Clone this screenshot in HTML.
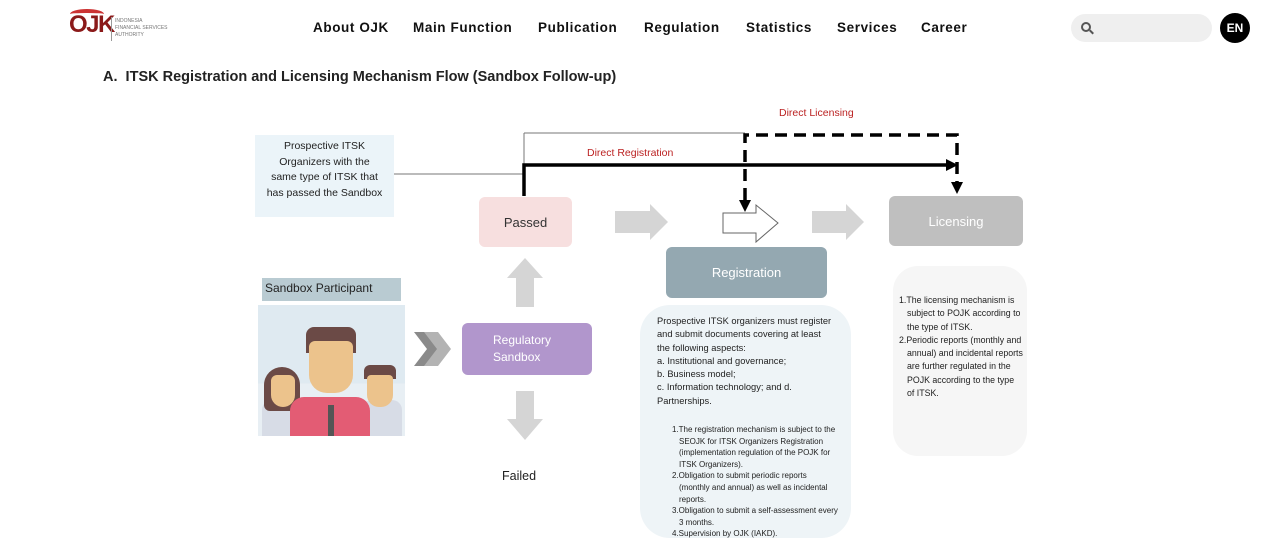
<!DOCTYPE html>
<html><head><meta charset="utf-8"><style>
*{margin:0;padding:0;box-sizing:border-box}
body{width:1280px;height:545px;background:#fff;position:relative;overflow:hidden;font-family:"Liberation Sans",sans-serif;color:#222}
.a{position:absolute}
.nav{top:20px;font-weight:bold;font-size:13.5px;letter-spacing:.6px;color:#111}
.box{display:flex;align-items:center;justify-content:center;text-align:center;border-radius:6px;font-size:13px}
.sm{font-size:9.3px;line-height:13.3px;color:#222}
.li{padding-left:7px;text-indent:-7px}
</style></head><body>
<div class="a" style="left:69px;top:11px;font-weight:bold;font-size:24px;color:#8b1a1a;letter-spacing:-1.5px">OJK</div>
<div class="a" style="left:70px;top:9px;width:34px;height:10px;border-top:4px solid #c33;border-radius:50% 50% 0 0"></div>
<div class="a" style="left:111px;top:17px;width:1px;height:24px;background:#999"></div>
<div class="a" style="left:115px;top:18px;font-size:5px;line-height:7px;color:#777">INDONESIA<br>FINANCIAL SERVICES<br>AUTHORITY</div>
<div class="a nav" style="left:313px">About OJK</div>
<div class="a nav" style="left:413px">Main Function</div>
<div class="a nav" style="left:538px">Publication</div>
<div class="a nav" style="left:644px">Regulation</div>
<div class="a nav" style="left:746px">Statistics</div>
<div class="a nav" style="left:837px">Services</div>
<div class="a nav" style="left:921px">Career</div>
<div class="a" style="left:1071px;top:14px;width:141px;height:28px;border-radius:14px;background:#efefef"></div>
<div class="a" style="left:1081px;top:22px;width:10px;height:10px;border:2px solid #555;border-radius:50%"></div>
<div class="a" style="left:1089px;top:31px;width:5px;height:2px;background:#555;transform:rotate(45deg)"></div>
<div class="a" style="left:1220px;top:13px;width:30px;height:30px;border-radius:50%;background:#000;color:#fff;font-weight:bold;font-size:12px;display:flex;align-items:center;justify-content:center">EN</div>
<div class="a" style="left:103px;top:69px;font-weight:bold;font-size:14.5px;letter-spacing:0;color:#222">A.&nbsp; ITSK Registration and Licensing Mechanism Flow (Sandbox Follow-up)</div>

<svg class="a" style="left:0;top:0" width="1280" height="545">
<line x1="394" y1="174" x2="524" y2="174" stroke="#777" stroke-width="1"/>
<line x1="524" y1="133" x2="745" y2="133" stroke="#777" stroke-width="1"/>
<line x1="524" y1="133" x2="524" y2="166" stroke="#777" stroke-width="1"/>
<polyline points="524,196 524,165 948,165" fill="none" stroke="#000" stroke-width="3.5"/>
<polygon points="946,159 958,165 946,171" fill="#000"/>
<polyline points="745,200 745,135 957,135 957,183" fill="none" stroke="#000" stroke-width="3.5" stroke-dasharray="12,7"/>
<polygon points="739,200 751,200 745,212" fill="#000"/>
<polygon points="951,182 963,182 957,194" fill="#000"/>
<polygon points="615,211 650,211 650,204 668,222 650,240 650,233 615,233" fill="#d5d5d5"/>
<polygon points="723,213 756,213 756,205 778,223 756,242 756,233 723,233" fill="#fff" stroke="#666" stroke-width="1"/>
<polygon points="812,211 846,211 846,204 864,222 846,240 846,233 812,233" fill="#d5d5d5"/>
<polygon points="525,258 543,278 534,278 534,307 516,307 516,278 507,278" fill="#d5d5d5"/>
<polygon points="516,391 534,391 534,419 543,419 525,440 507,419 516,419" fill="#d5d5d5"/>
<polygon points="414,332 428,332 441,349 428,366 414,366 427,349" fill="#8a8a8a"/>
<polygon points="424,332 438,332 451,349 438,366 424,366 437,349" fill="#b3b3b3"/>
</svg>

<div class="a" style="left:779px;top:107px;font-size:10.5px;color:#b22">Direct Licensing</div>
<div class="a" style="left:587px;top:147px;font-size:10.5px;color:#b22">Direct Registration</div>
<div class="a sm" style="left:255px;top:135px;width:139px;height:82px;background:#ebf4f9;text-align:center;padding-top:4px;font-size:10.5px;line-height:15.5px">Prospective ITSK<br>Organizers with the<br>same type of ITSK that<br>has passed the Sandbox</div>
<div class="a box" style="left:479px;top:197px;width:93px;height:50px;background:#f7dfdf;color:#333">Passed</div>
<div class="a box" style="left:889px;top:196px;width:134px;height:50px;background:#bfbfbf;color:#fff">Licensing</div>
<div class="a box" style="left:666px;top:247px;width:161px;height:51px;background:#94a8b1;color:#fff">Registration</div>
<div class="a sm" style="left:640px;top:305px;width:211px;height:233px;background:#eef4f7;border-radius:30px;padding:10px 0 0 17px">Prospective ITSK organizers must register<br>and submit documents covering at least<br>the following aspects:<br>a. Institutional and governance;<br>b. Business model;<br>c. Information technology; and d.<br>Partnerships.
<div style="font-size:8px;line-height:11.6px;padding:16px 12px 0 15px">
<div class="li">1.The registration mechanism is subject to the SEOJK for ITSK Organizers Registration (implementation regulation of the POJK for ITSK Organizers).</div>
<div class="li">2.Obligation to submit periodic reports (monthly and annual) as well as incidental reports.</div>
<div class="li">3.Obligation to submit a self-assessment every 3 months.</div>
<div class="li">4.Supervision by OJK (IAKD).</div></div></div>
<div class="a sm" style="left:893px;top:266px;width:134px;height:190px;background:#f6f6f6;border-radius:25px;padding:28px 4px 0 6px;font-size:8.8px">
<div class="li" style="padding-left:8px;text-indent:-8px">1.The licensing mechanism is subject to POJK according to the type of ITSK.</div>
<div class="li" style="padding-left:8px;text-indent:-8px">2.Periodic reports (monthly and annual) and incidental reports are further regulated in the POJK according to the type of ITSK.</div></div>
<div class="a" style="left:262px;top:278px;width:139px;height:23px;background:#b9cbd2;font-size:12px;padding:3px 0 0 3px">Sandbox Participant</div>
<div class="a" style="left:258px;top:305px;width:147px;height:131px;background:linear-gradient(#dfeaf1 60%,#e8eff4 60%);overflow:hidden">
 <div class="a" style="left:4px;top:95px;width:36px;height:36px;background:#d7dce6;border-radius:10px 10px 0 0"></div>
 <div class="a" style="left:6px;top:62px;width:36px;height:44px;background:#6b4a46;border-radius:18px 18px 6px 6px"></div>
 <div class="a" style="left:13px;top:70px;width:24px;height:32px;background:#ecc38c;border-radius:6px 6px 12px 12px"></div>
 <div class="a" style="left:104px;top:95px;width:40px;height:36px;background:#d7dce6;border-radius:10px 10px 0 0"></div>
 <div class="a" style="left:106px;top:60px;width:32px;height:14px;background:#6b4a46;border-radius:6px 6px 0 0"></div>
 <div class="a" style="left:109px;top:70px;width:26px;height:32px;background:#ecc38c;border-radius:4px 4px 12px 12px"></div>
 <div class="a" style="left:32px;top:92px;width:80px;height:39px;background:#e35c74;border-radius:14px 14px 0 0"></div>
 <div class="a" style="left:70px;top:100px;width:6px;height:31px;background:#555"></div>
 <div class="a" style="left:48px;top:22px;width:50px;height:26px;background:#6b4a46;border-radius:8px 8px 0 0"></div>
 <div class="a" style="left:51px;top:36px;width:44px;height:52px;background:#ecc38c;border-radius:6px 6px 18px 18px"></div>
</div>
<div class="a box" style="left:462px;top:323px;width:130px;height:52px;background:#b196cc;color:#fff;font-size:12px;line-height:17px;justify-content:flex-start;padding-left:31px;text-align:left">Regulatory<br>Sandbox</div>
<div class="a" style="left:502px;top:469px;font-size:12.5px;color:#222">Failed</div>
</body></html>
